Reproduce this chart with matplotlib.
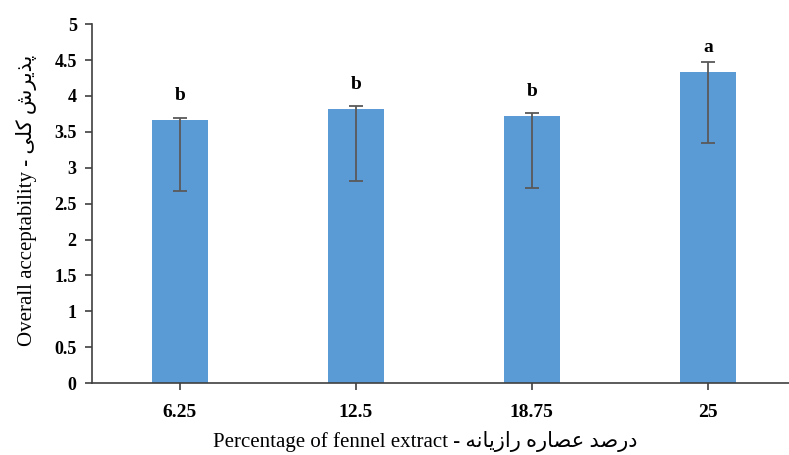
import matplotlib.pyplot as plt

# data
categories = ["6.25", "12.5", "18.75", "25"]
means = [3.67, 3.82, 3.72, 4.34]
err_low = [1.0, 1.0, 1.0, 1.0]
err_high = [0.02, 0.04, 0.04, 0.13]
letters = ["b", "b", "b", "a"]

# persian text in presentation forms, visual order (matplotlib does no shaping / RTL)
fa_y = "\uFBFD\uFEE0\uFB90 \uFEB5\uFEAE\uFBFE\uFEAC\uFB58"           # پذیرش کلی
fa_x = ("\uFEEA\uFEE7\uFE8E\uFBFE\uFEAF\uFE8D\uFEAD "                 # رازیانه
        "\uFEE9\uFEAD\uFE8E\uFEBC\uFECB "                              # عصاره
        "\uFEAA\uFEBB\uFEAD\uFEA9")                                    # درصد

fam = ["Liberation Serif", "DejaVu Sans"]
plt.rcParams['font.family'] = fam

fig = plt.figure(figsize=(7.89, 4.55), dpi=100)
ax = fig.add_axes([0.1166, 0.158, 0.892, 0.789])

x = range(len(categories))
ax.bar(x, means, width=0.315, color="#5B9BD5", zorder=2)
ax.errorbar(x, means, yerr=[err_low, err_high], fmt="none", ecolor="#595959",
            elinewidth=1.3, capsize=5, capthick=1.3, zorder=3)
# letters sit a fixed distance above the bar top
for i in x:
    ax.text(i, means[i] + 0.22, letters[i], ha="center", va="bottom",
            fontsize=14, fontweight="bold")

ax.set_xlim(-0.5, 3.5)
ax.set_ylim(0, 5)
ax.set_yticks([0, 0.5, 1, 1.5, 2, 2.5, 3, 3.5, 4, 4.5, 5])
ax.set_yticklabels(["0", "0.5", "1", "1.5", "2", "2.5", "3", "3.5", "4", "4.5", "5"])
ax.set_xticks(list(x))
ax.set_xticklabels(categories)
for lab in ax.get_yticklabels():
    lab.set_fontweight("bold")
    lab.set_fontsize(13)
for lab in ax.get_xticklabels():
    lab.set_fontweight("bold")
    lab.set_fontsize(14)

ax.spines['top'].set_visible(False)
ax.spines['right'].set_visible(False)
for s in ['left', 'bottom']:
    ax.spines[s].set_linewidth(1.2)
    ax.spines[s].set_color("#404040")
ax.tick_params(axis='both', direction='out', length=5, width=1.2, color="#404040")
ax.tick_params(axis='x', pad=10)
ax.tick_params(axis='y', pad=6)

ax.set_ylabel("Overall acceptability - " + fa_y, fontsize=15)
ax.set_xlabel("Percentage of fennel extract - " + fa_x, fontsize=15)
ax.yaxis.set_label_coords(-0.078, 0.51)
ax.xaxis.set_label_coords(0.474, -0.133)

fig.savefig("out.png", dpi=100)
